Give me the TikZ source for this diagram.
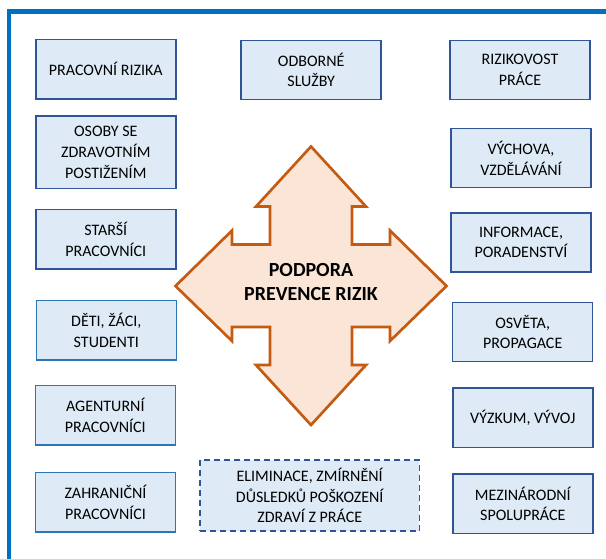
\documentclass[tikz,border=0pt]{standalone}
\usepackage{fontspec}
\setmainfont{Carlito}
\definecolor{framecol}{HTML}{0070C0}
\definecolor{boxfill}{HTML}{DEEBF7}
\definecolor{boxline}{HTML}{2F5597}
\definecolor{boxlinelight}{HTML}{2E75B6}
\definecolor{arrowfill}{HTML}{FBE5D6}
\definecolor{arrowline}{HTML}{C55A11}
\tikzset{
	box/.style={draw=boxline, fill=boxfill, line width=1.1pt, align=center,
		minimum width=105pt, minimum height=44.5pt, inner sep=2pt,
		font=\fontsize{12}{15.5}\selectfont},
}
\begin{document}
\begin{tikzpicture}[x=0.75pt,y=-0.75pt]
		\useasboundingbox (0,0) rectangle (606,558);
		\clip (0,0) rectangle (606,558);
		\draw[framecol, line width=3.4pt] (9,11.7) rectangle (640,600);
		
		% cross arrow in the middle
		\draw[arrowline, fill=arrowfill, line width=2pt, line join=miter] (311,285.5) ++(0,-139)
			-- ++(55,60) -- ++(-14,0) -- ++(0,38) -- ++(38,0) -- ++(0,-14)
			-- ++(56.5,55.5) -- ++(-56.5,55) -- ++(0,-14) -- ++(-38,0) -- ++(0,38)
			-- ++(14,0) -- ++(-55,60) -- ++(-55,-60) -- ++(14,0) -- ++(0,-38)
			-- ++(-38,0) -- ++(0,14) -- ++(-56.5,-55) -- ++(56.5,-55.5) -- ++(0,14)
			-- ++(38,0) -- ++(0,-38) -- ++(-14,0) -- cycle;
		\node[align=center, font=\fontsize{15}{17.5}\selectfont\bfseries] (podpora) at (311,282) {PODPORA\\PREVENCE RIZIK};
		
		% left column
		\node[box] (rizika) at (105.8,69.2) {PRACOVNÍ RIZIKA};
		\node[box, minimum height=54.5pt] (osoby) at (105.8,152.3) {OSOBY SE\\ZDRAVOTNÍM\\POSTIŽENÍM};
		\node[box] (starsi) at (105.8,239.3) {STARŠÍ\\PRACOVNÍCI};
		\node[box, draw=boxlinelight] (deti) at (106.3,330.3) {DĚTI, ŽÁCI,\\STUDENTI};
		\node[box, draw=boxlinelight] (agentura) at (105.3,415.3) {AGENTURNÍ\\PRACOVNÍCI};
		\node[box, draw=boxlinelight] (cizinci) at (105.5,502.3) {ZAHRANIČNÍ\\PRACOVNÍCI};
		
		% middle
		\node[box] (sluzby) at (311.2,70) {ODBORNÉ\\SLUŽBY};
		\node[box, dash pattern=on 4.5pt off 3pt, minimum width=164.5pt, minimum height=53.5pt] (eliminace) at (309.7,495.5) {ELIMINACE, ZMÍRNĚNÍ\\DŮSLEDKŮ POŠKOZENÍ\\ZDRAVÍ Z PRÁCE};
		
		% right column
		\node[box] (rizikovost) at (520,70) {RIZIKOVOST\\PRÁCE};
		\node[box] (vychova) at (521,158) {VÝCHOVA,\\VZDĚLÁVÁNÍ};
		\node[box] (informace) at (521,242.5) {INFORMACE,\\PORADENSTVÍ};
		\node[box] (osveta) at (522.7,332) {OSVĚTA,\\PROPAGACE};
		\node[box] (vyzkum) at (522.8,417.8) {VÝZKUM, VÝVOJ};
		\node[box] (spoluprace) at (522.8,503.8) {MEZINÁRODNÍ\\SPOLUPRÁCE};
	\end{tikzpicture}
\end{document}
